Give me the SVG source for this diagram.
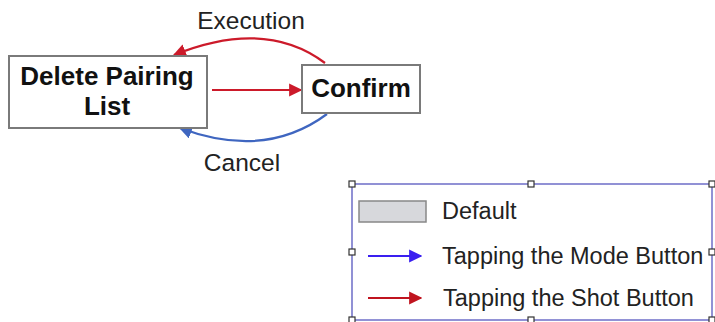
<svg xmlns="http://www.w3.org/2000/svg" width="715" height="322" viewBox="0 0 715 322">
<style>
.node{fill:#fff;stroke:#7a7a7a;stroke-width:2}
.bold{font-family:"Liberation Sans",Arial,sans-serif;font-weight:bold;font-size:26px;fill:#111;text-anchor:middle}
.lbl{font-family:"Liberation Sans",Arial,sans-serif;font-size:24.5px;fill:#222;text-anchor:middle}
.leg{font-family:"Liberation Sans",Arial,sans-serif;font-size:23.5px;fill:#222}
.red{fill:none;stroke:#cc1a2a;stroke-width:2.2}
.blue{fill:none;stroke:#3f66c0;stroke-width:2.2}
.h{fill:#fff;stroke:#333;stroke-width:1.2}
</style>
<defs>
<marker id="ar" viewBox="0 0 10 10" refX="9" refY="5" markerWidth="6" markerHeight="6" orient="auto" markerUnits="strokeWidth"><path d="M0,0 L10,5 L0,10 z" fill="#cc1a2a"/></marker>
<marker id="ab" viewBox="0 0 10 10" refX="9" refY="5" markerWidth="6" markerHeight="6" orient="auto" markerUnits="strokeWidth"><path d="M0,0 L10,5 L0,10 z" fill="#3f66c0"/></marker>
<marker id="ar2" viewBox="0 0 10 10" refX="9" refY="5" markerWidth="6" markerHeight="6" orient="auto" markerUnits="strokeWidth"><path d="M0,0 L10,5 L0,10 z" fill="#c0141f"/></marker>
<marker id="ap" viewBox="0 0 10 10" refX="9" refY="5" markerWidth="6" markerHeight="6" orient="auto" markerUnits="strokeWidth"><path d="M0,0 L10,5 L0,10 z" fill="#3a1ff0"/></marker>
</defs>
<g id="connectors">
<path class="red" d="M325,63 Q265,18 174,55" marker-end="url(#ar)"/>
<line class="red" x1="212" y1="90" x2="301" y2="90" marker-end="url(#ar)"/>
<path class="blue" d="M327,114 Q265,160 180,128" marker-end="url(#ab)"/>
<text class="lbl" x="251" y="29">Execution</text>
<text class="lbl" x="242" y="171">Cancel</text>
</g>
<g id="delete-pairing-list">
<rect class="node" x="9" y="56" width="198" height="72"/>
<text class="bold" x="107" y="85">Delete Pairing</text>
<text class="bold" x="107" y="115">List</text>
</g>
<g id="confirm">
<rect class="node" x="302" y="65" width="118" height="48"/>
<text class="bold" x="361" y="97">Confirm</text>
</g>
<g id="legend">
<rect x="352" y="184" width="360" height="136" fill="#fff" stroke="#6e6ec8" stroke-width="1.5"/>
<rect x="359" y="201" width="67" height="21" fill="#d7d8dc" stroke="#888" stroke-width="1.5"/>
<text class="leg" x="442" y="219">Default</text>
<line x1="368" y1="256" x2="421" y2="256" stroke="#3a1ff0" stroke-width="2.2" marker-end="url(#ap)"/>
<text class="leg" x="442" y="264">Tapping the Mode Button</text>
<line x1="368" y1="298" x2="421" y2="298" stroke="#c0141f" stroke-width="2.2" marker-end="url(#ar2)"/>
<text class="leg" x="443" y="306">Tapping the Shot Button</text>
<rect class="h" x="349" y="181" width="6" height="6"/>
<rect class="h" x="528" y="181" width="6" height="6"/>
<rect class="h" x="709" y="181" width="6" height="6"/>
<rect class="h" x="349" y="249" width="6" height="6"/>
<rect class="h" x="709" y="249" width="6" height="6"/>
<rect class="h" x="349" y="317" width="6" height="6"/>
<rect class="h" x="528" y="317" width="6" height="6"/>
<rect class="h" x="709" y="317" width="6" height="6"/>
</g>
</svg>
